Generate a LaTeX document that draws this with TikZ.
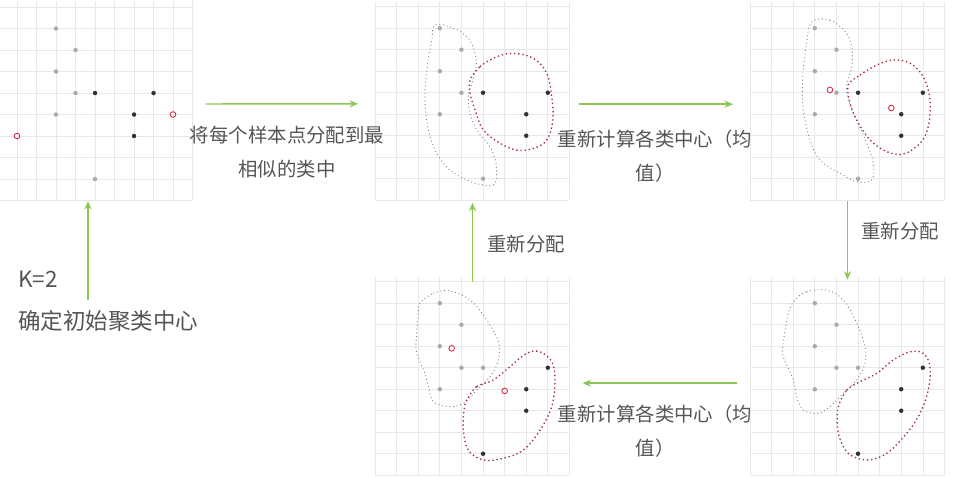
\documentclass[tikz,border=0pt]{standalone}
\usepackage{fontspec}
\newfontfamily\cjk{Noto Sans CJK SC}
\usetikzlibrary{arrows.meta}
\definecolor{flowgreen}{RGB}{141,198,84}
\definecolor{centrered}{RGB}{205,55,75}
\definecolor{labelgray}{RGB}{85,85,85}
% grid of one panel, in cell units
\newcommand{\cellgrid}{%
  \foreach \k in {0,...,9} \draw[gridline] (\k,-0.2) -- (\k,9);
  \foreach \m in {0,...,9} \draw[gridline] (0,\m) -- (9,\m);}

\begin{document}
\begin{tikzpicture}[x=0.025cm, y=-0.025cm,
  panel/.style={minimum width=4.86cm, minimum height=4.8375cm, inner sep=0, anchor=north west},
  gridline/.style={draw=black!9, line width=0.5pt},
  lightpt/.style={fill=black!33},
  darkpt/.style={fill=black!80},
  centre/.style={draw=centrered, line width=0.65pt},
  greyzone/.style={draw=black!50, dotted, line width=0.65pt},
  redzone/.style={draw=centrered!80!black, dotted, line width=0.95pt},
  flow/.style={draw=flowgreen, line width=1pt, -{Stealth[length=6pt, width=5pt]}},
  note/.style={font=\cjk\fontsize{13.8}{24}\selectfont, text=labelgray, align=center}]
\useasboundingbox (0,0) rectangle (960,478);
% Panels
\node[panel, minimum width=4.825cm] (init) at (0,7) {};
\node[panel] (assign) at (375,6.7) {};
\node[panel] (mean) at (750,6.7) {};
\node[panel] (remean) at (375,281.7) {};
\node[panel] (reassign) at (750,281.7) {};

% Initial centres (narrower cells)
\begin{scope}[shift={(-2.5,7)}, x=0.4875cm, y=-0.5375cm]
\foreach \k in {1,...,10} \draw[gridline] (\k,-0.3) -- (\k,9);
\foreach \m in {0,...,9} \draw[gridline] (0.13,\m) -- (10,\m);
\foreach \x/\y in {3/1,4/2,3/3,4/4,3/5,5/8} \fill[lightpt] (\x,\y) circle (1.6pt);
\foreach \x/\y in {5/4,8/4,7/5,7/6} \fill[darkpt] (\x,\y) circle (1.6pt);
\draw[centre] (1,6) circle (2pt); \draw[centre] (9,5) circle (2pt);
\end{scope}

% First assignment
\begin{scope}[shift={(assign.north west)}, x=0.54cm, y=-0.5375cm]
\cellgrid
\draw[greyzone] plot[smooth cycle, tension=0.6] coordinates {(2.78,0.85) (3.63,1.0) (4.32,1.47) (4.63,2.17) (4.68,2.79) (4.48,3.56) (4.32,4.19) (4.40,4.96) (4.71,5.73) (5.32,6.51) (5.60,7.28) (5.56,8.21) (5.01,8.29) (4.25,8.06) (3.47,7.60) (2.86,6.82) (2.47,5.73) (2.31,4.34) (2.42,2.79) (2.63,1.55)};
\draw[redzone] plot[smooth cycle, tension=0.6] coordinates {(4.40,3.41) (4.86,2.79) (5.63,2.33) (6.40,2.17) (7.33,2.40) (7.95,3.10) (8.18,4.19) (8.23,5.27) (7.95,6.20) (7.33,6.59) (6.56,6.67) (5.79,6.35) (5.01,5.73) (4.63,4.80) (4.40,4.03)};
\foreach \x/\y in {3/1,4/2,3/3,4/4,3/5,5/8} \fill[lightpt] (\x,\y) circle (1.6pt);
\foreach \x/\y in {5/4,8/4,7/5,7/6} \fill[darkpt] (\x,\y) circle (1.6pt);
\end{scope}

% New means
\begin{scope}[shift={(mean.north west)}, x=0.54cm, y=-0.5375cm]
\cellgrid
\draw[greyzone] plot[smooth cycle, tension=0.6] coordinates {(2.86,0.70) (3.70,0.62) (4.40,1.16) (4.71,1.86) (4.71,2.79) (4.48,3.56) (4.55,4.34) (4.94,5.27) (5.40,6.35) (5.71,7.28) (5.63,8.06) (4.94,8.14) (4.17,7.75) (3.24,7.13) (2.78,6.20) (2.47,4.80) (2.44,3.26) (2.62,1.70)};
\draw[redzone] plot[smooth cycle, tension=0.6] coordinates {(4.55,3.64) (5.09,3.18) (5.87,2.71) (6.63,2.48) (7.41,2.63) (8.02,3.26) (8.33,4.34) (8.25,5.58) (7.87,6.35) (7.10,6.85) (6.33,6.74) (5.56,6.20) (4.94,5.27) (4.63,4.49)};
\foreach \x/\y in {3/1,4/2,3/3,4/4,3/5,5/8} \fill[lightpt] (\x,\y) circle (1.6pt);
\foreach \x/\y in {5/4,8/4,7/5,7/6} \fill[darkpt] (\x,\y) circle (1.6pt);
\draw[centre] (3.7,3.87) circle (2pt); \draw[centre] (6.54,4.71) circle (2pt);
\end{scope}

% Means after reassignment
\begin{scope}[shift={(remean.north west)}, x=0.54cm, y=-0.5375cm]
\cellgrid
\draw[greyzone] plot[smooth cycle, tension=0.6] coordinates {(2.08,1.00) (2.70,0.54) (3.47,0.43) (4.40,0.85) (5.17,1.78) (5.71,2.79) (5.71,3.64) (5.32,4.42) (4.71,5.04) (4.09,5.66) (3.39,5.81) (2.70,5.58) (2.47,4.88) (2.31,4.26) (1.92,3.26) (1.92,2.56) (2.00,1.47)};
\draw[redzone] plot[smooth cycle, tension=0.6] coordinates {(4.25,5.50) (4.71,4.88) (5.48,4.57) (6.25,3.95) (7.02,3.33) (7.64,3.26) (8.18,3.72) (8.33,4.57) (8.18,5.81) (7.64,6.90) (6.87,7.83) (5.94,8.21) (5.01,8.29) (4.32,7.83) (4.09,6.90) (4.12,5.97)};
\foreach \x/\y in {3/1,4/2,3/3,4/4,5/4,3/5} \fill[lightpt] (\x,\y) circle (1.6pt);
\foreach \x/\y in {8/4,7/5,7/6,5/8} \fill[darkpt] (\x,\y) circle (1.6pt);
\draw[centre] (3.55,3.1) circle (2pt); \draw[centre] (6.0,5.08) circle (2pt);
\end{scope}

% Reassignment
\begin{scope}[shift={(reassign.north west)}, x=0.54cm, y=-0.5375cm]
\cellgrid
\draw[greyzone] plot[smooth cycle, tension=0.6] coordinates {(2.08,0.85) (2.62,0.47) (3.55,0.39) (4.32,0.85) (4.94,1.93) (5.32,3.02) (5.32,3.80) (4.94,4.57) (4.32,5.19) (3.70,5.81) (3.16,6.12) (2.47,5.97) (2.16,5.35) (2.01,4.57) (1.54,3.49) (1.54,2.87) (1.77,1.47)};
\draw[redzone] plot[smooth cycle, tension=0.6] coordinates {(4.09,5.81) (4.48,5.04) (5.09,4.65) (5.87,4.26) (6.63,3.64) (7.41,3.26) (8.02,3.33) (8.33,3.95) (8.25,5.04) (7.87,6.12) (7.25,7.05) (6.33,7.98) (5.40,8.29) (4.55,7.98) (4.13,7.21) (4.04,6.43)};
\foreach \x/\y in {3/1,4/2,3/3,4/4,5/4,3/5} \fill[lightpt] (\x,\y) circle (1.6pt);
\foreach \x/\y in {8/4,7/5,7/6,5/8} \fill[darkpt] (\x,\y) circle (1.6pt);
\end{scope}

% Steps
\coordinate (kstart) at (88,300);
\node[note, font=\cjk\fontsize{16}{30}\selectfont, align=left, anchor=west, inner sep=0] (kinfo) at (18,301) {K=2\\确定初始聚类中心};
\draw[flow] (kstart) -- (kstart |- init.south);
\draw[flow, shorten <=0.3cm, shorten >=0.425cm] (init) -- (assign);
\node[note] (assigntext) at (287,152) {将每个样本点分配到最\\相似的类中};
\draw[flow, shorten <=0.215cm, shorten >=0.425cm] ([yshift=-0.01cm]assign.east) -- ([yshift=-0.01cm]mean.west);
\node[note] (meantext) at (655,156) {重新计算各类中心（均\\值）};
\draw[flow, shorten >=0.05cm] (mean) -- (reassign);
\node[note] (reassigntext) at (900,231) {重新分配};
\draw[flow, shorten <=0.325cm, shorten >=0.315cm] ([yshift=-0.11cm]reassign.west) -- ([yshift=-0.11cm]remean.east);
\node[note] (remeantext) at (655,431) {重新计算各类中心（均\\值）};
\draw[flow, shorten >=0.05cm] (remean) -- (assign);
\node[note] (backtext) at (526,244) {重新分配};
\end{tikzpicture}
\end{document}
